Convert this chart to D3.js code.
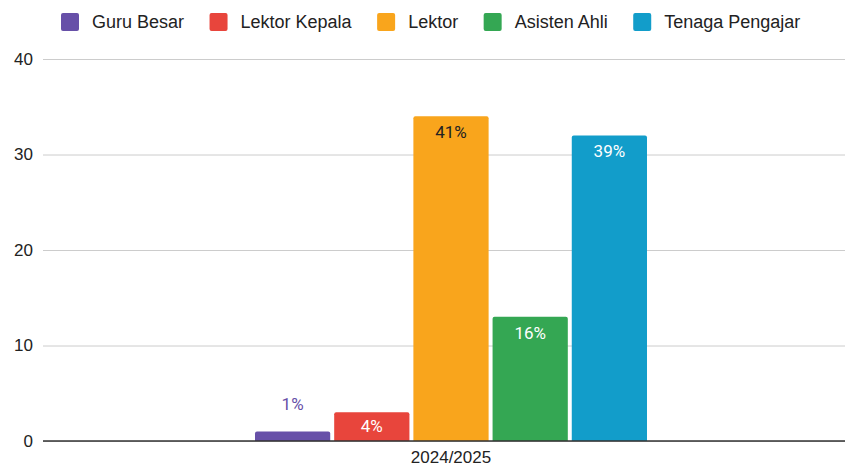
<!DOCTYPE html>
<html>
<head>
<meta charset="utf-8">
<script src="https://cdn.jsdelivr.net/npm/d3@7"></script>
<style>
  html, body { margin: 0; padding: 0; background: #fff; }
  svg { display: block; }
</style>
</head>
<body>
<svg id="chart" width="845" height="468"></svg>
<script>
// ---- data ----
const categories = ["2024/2025"];
const seriesNames = ["Guru Besar", "Lektor Kepala", "Lektor", "Asisten Ahli", "Tenaga Pengajar"];
const seriesValues = [1, 3, 34, 13, 32];
const seriesLabels = ["1%", "4%", "41%", "16%", "39%"];
const seriesColors = ["#6750a8", "#e8453c", "#f9a51c", "#34a753", "#129dca"];
const yTicks = [0, 10, 20, 30, 40];

// ---- layout ----
const W = 845, H = 468;
const plotLeft = 43, plotRight = 845, y0px = 441, yTopPx = 59;
const svg = d3.select("#chart");

const y = d3.scaleLinear().domain([0, 40]).range([y0px, yTopPx]);
const x0 = d3.scaleBand().domain(categories).range([plotLeft, 859]).paddingInner(0).paddingOuter(0.5408);
const x1 = d3.scaleBand().domain(seriesNames).range([0, x0.bandwidth()]).paddingInner(0.05).paddingOuter(0);

const axisFont = "'Liberation Sans', Arial, sans-serif";
const labelFont = "Roboto, 'Liberation Sans', sans-serif";

// gridlines
const yAxis = d3.axisLeft(y).tickValues(yTicks).tickSize(-(plotRight - plotLeft)).tickPadding(10).tickFormat(d3.format("d"));
const gy = svg.append("g").attr("transform", `translate(${plotLeft},0)`).call(yAxis);
gy.select(".domain").remove();
gy.selectAll(".tick line").attr("stroke", "#cccccc").attr("stroke-width", 1);
gy.selectAll(".tick text").attr("fill", "#222").attr("font-family", axisFont).attr("font-size", 17).attr("x", -10);

// bars
const g = svg.append("g");
const data = seriesNames.map((n, i) => ({ name: n, value: seriesValues[i], label: seriesLabels[i], color: seriesColors[i], cat: categories[0] }));

function topRoundedRect(x, yTop, w, h, r) {
  r = Math.min(r, h, w / 2);
  return `M${x},${yTop + h}V${yTop + r}Q${x},${yTop} ${x + r},${yTop}H${x + w - r}Q${x + w},${yTop} ${x + w},${yTop + r}V${yTop + h}Z`;
}

g.selectAll("path.bar").data(data).join("path")
  .attr("class", "bar")
  .attr("fill", d => d.color)
  .attr("d", d => {
    const bx = x0(d.cat) + x1(d.name);
    return topRoundedRect(bx, y(d.value), x1.bandwidth(), y(0) - y(d.value), 2);
  });

// zero axis line
svg.append("line")
  .attr("x1", plotLeft).attr("x2", plotRight)
  .attr("y1", y(0)).attr("y2", y(0))
  .attr("stroke", "#333").attr("stroke-width", 1.5);

// data labels
g.selectAll("text.lbl").data(data).join("text")
  .attr("class", "lbl")
  .attr("text-anchor", "middle")
  .attr("font-family", labelFont)
  .attr("font-size", 17)
  .attr("x", d => x0(d.cat) + x1(d.name) + x1.bandwidth() / 2)
  .attr("y", d => {
    const h = y(0) - y(d.value);
    if (h < 20) return y(d.value) - 21;
    return Math.min(y(d.value) + 22, y(0) - 9);
  })
  .attr("fill", d => {
    const h = y(0) - y(d.value);
    if (h < 20) return d.color;
    return d.name === "Lektor" ? "#222" : "#fff";
  })
  .text(d => d.label);

// x axis label
const xAxis = d3.axisBottom(x0).tickSize(0).tickPadding(10);
const gx = svg.append("g").attr("transform", `translate(0,${y0px})`).call(xAxis);
gx.select(".domain").remove();
gx.selectAll(".tick text").attr("fill", "#222").attr("font-family", axisFont).attr("font-size", 17);

// legend
const legend = svg.append("g").attr("class", "legend");
let lx = 61;
seriesNames.forEach((n, i) => {
  const item = legend.append("g");
  item.append("rect").attr("x", lx).attr("y", 13).attr("width", 18).attr("height", 18).attr("rx", 2).attr("fill", seriesColors[i]);
  const t = item.append("text").attr("x", lx + 31).attr("y", 28)
    .attr("font-family", axisFont).attr("font-size", 18).attr("fill", "#222").text(n);
  const tw = t.node().getComputedTextLength();
  lx = lx + 31 + tw + 25.5;
});
</script>
</body>
</html>
